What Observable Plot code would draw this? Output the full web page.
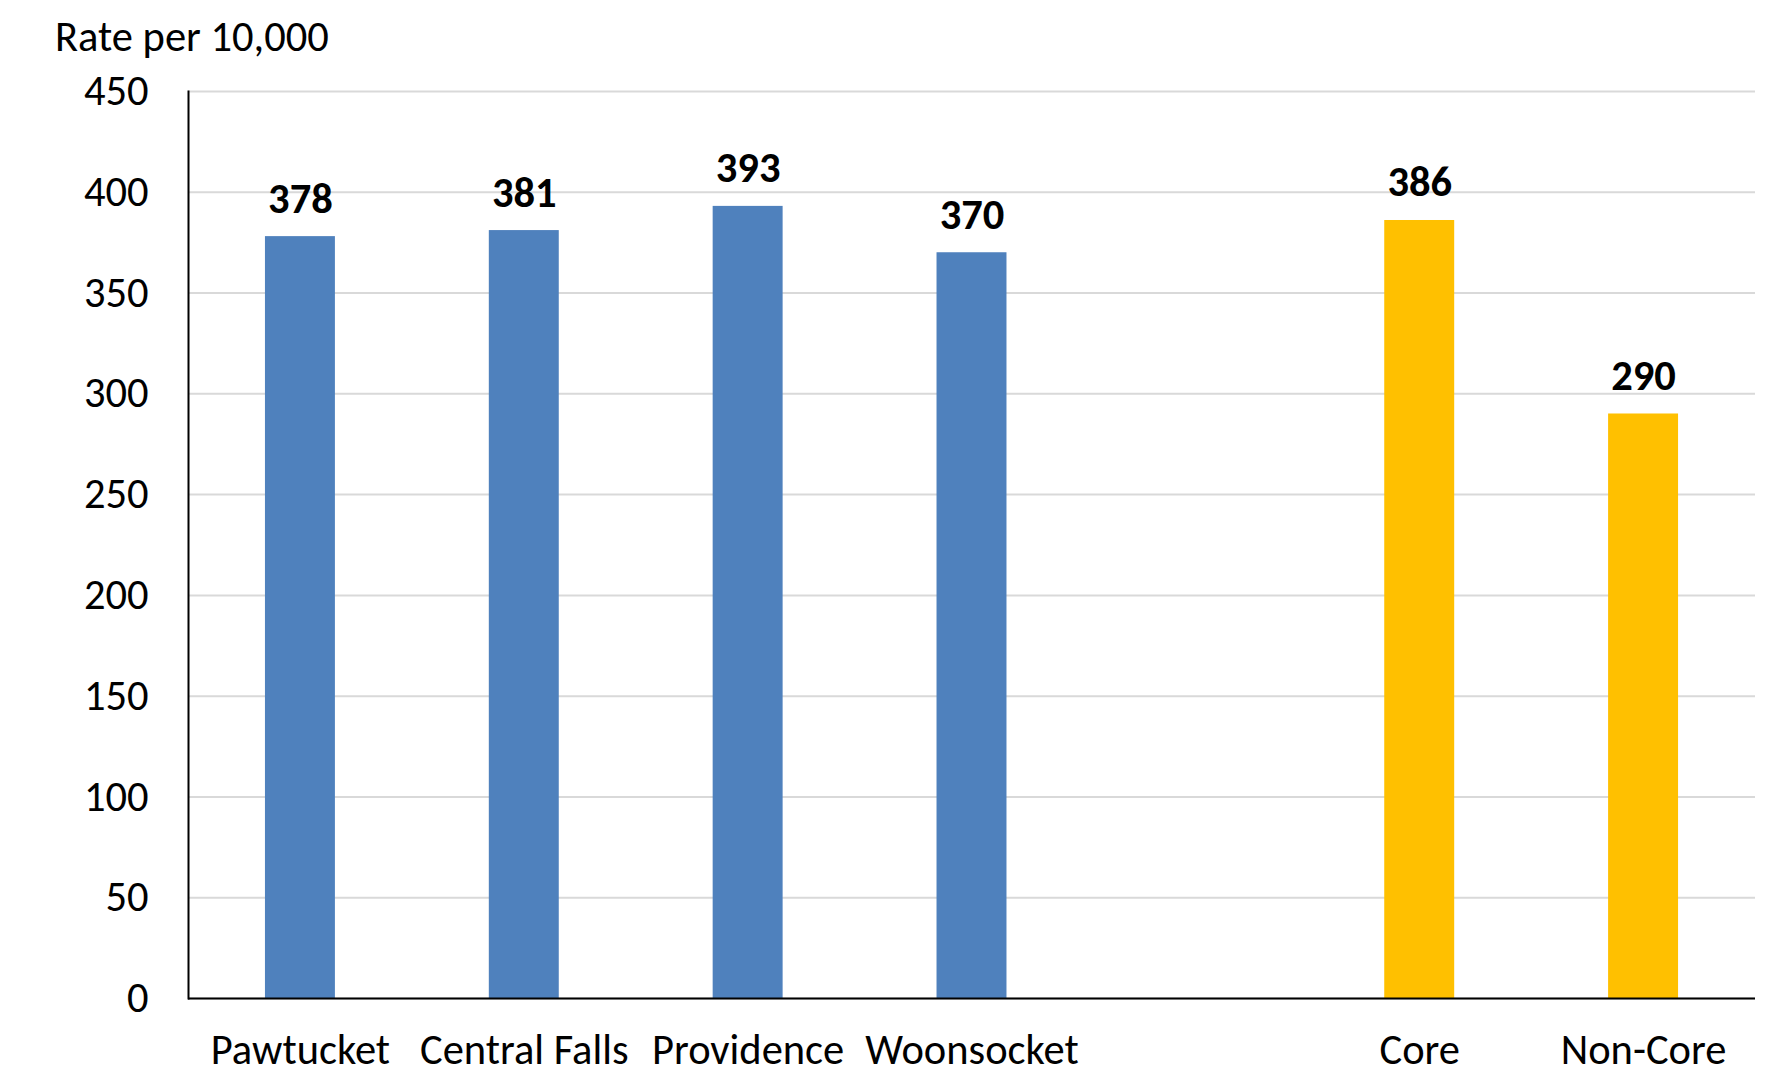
<!DOCTYPE html>
<html><head><meta charset="utf-8">
<script src="https://cdn.jsdelivr.net/npm/d3@7"></script>
<script src="https://cdn.jsdelivr.net/npm/@observablehq/plot@0.6"></script>
<style>
html,body{margin:0;padding:0;background:#fff;}
body{font-family:Carlito, Lato, sans-serif;position:relative;width:1766px;height:1075px;}
#title{position:absolute;left:55px;top:16px;font-size:42.5px;line-height:1;color:#000;}
#chart{position:absolute;left:0;top:60px;}
</style></head><body>
<div id="title">Rate per 10,000</div>
<div id="chart"></div>
<script>
const xDomain = ["Pawtucket","Central Falls","Providence","Woonsocket","","Core","Non-Core"];
const categories = ["Pawtucket","Central Falls","Providence","Woonsocket","Core","Non-Core"];
const values = [378, 381, 393, 370, 386, 290];
const groups = ["City","City","City","City","Region","Region"];
const yTicks = [0,50,100,150,200,250,300,350,400,450];

const data = categories.map((c,i)=>({category:c, value:values[i], group:groups[i]}));

const chart = Plot.plot({
  width: 1766,
  height: 1015,
  marginLeft: 188,
  marginRight: 11,
  marginTop: 31,
  marginBottom: 77,
  style: {fontFamily: "Carlito, Lato, sans-serif", fontSize: "42.5px", color: "#000", background: "#fff", overflow: "visible"},
  x: {domain: xDomain, paddingInner: 0.6875, paddingOuter: 0.34375, round: false, label: null},
  y: {domain: [0,450], ticks: yTicks, label: null},
  color: {domain: ["City","Region"], range: ["#4f81bd","#ffc000"]},
  marks: [
    Plot.gridY(yTicks, {stroke: "#d9d9d9", strokeOpacity: 1, strokeWidth: 2}),
    Plot.barY(data, {x: "category", y: "value", fill: "group"}),
    Plot.ruleY([0], {stroke: "#000", strokeWidth: 2}),
    Plot.frame({anchor: "left", stroke: "#000", strokeWidth: 2}),
    Plot.axisY(yTicks, {tickSize: 0, tickPadding: 40, fontSize: 42.5, label: null}),
    Plot.axisX({tickSize: 0, tickPadding: 35, fontSize: 42.5, label: null, tickFormat: d => d}),
    Plot.text(data, {x: "category", y: "value", text: d => String(d.value), fontWeight: "bold", fontSize: 42.5, lineAnchor: "bottom", dy: -24, fill: "#000"})
  ]
});
document.getElementById("chart").appendChild(chart);
</script>
</body></html>
